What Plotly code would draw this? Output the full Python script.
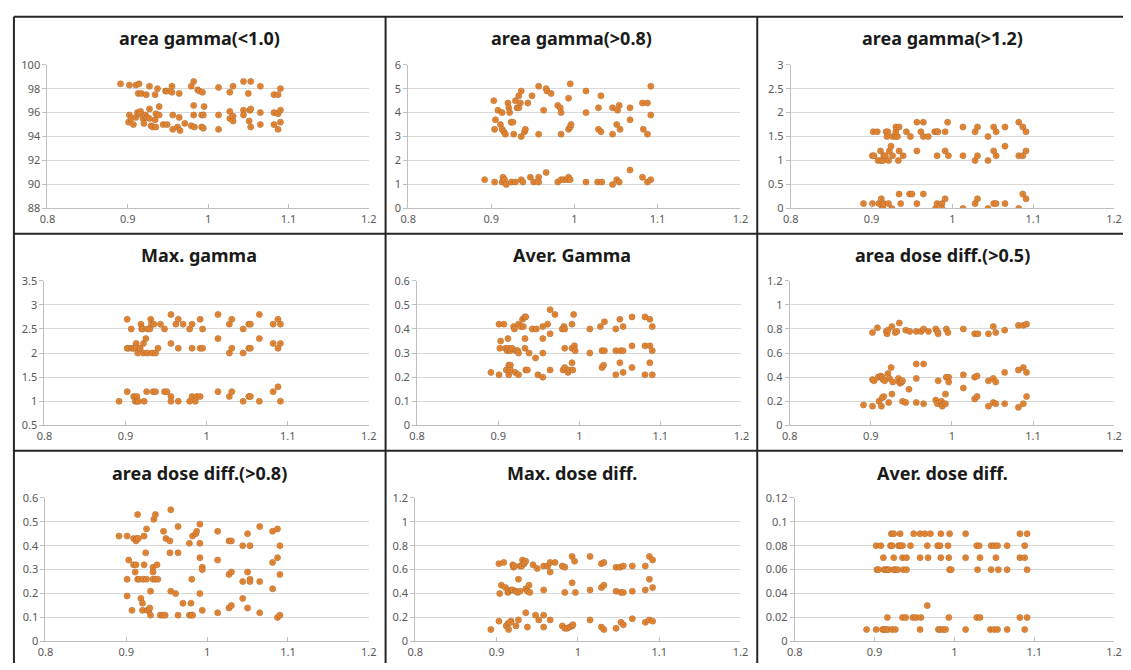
import plotly.graph_objects as go

# ---------------- data ----------------
titles = ["area gamma(<1.0)", "area gamma(>0.8)", "area gamma(>1.2)",
          "Max. gamma", "Aver. Gamma", "area dose diff.(>0.5)",
          "area dose diff.(>0.8)", "Max. dose diff.", "Aver. dose diff."]

x_ticks = [0.8, 0.9, 1.0, 1.1, 1.2]
x_tick_labels = ["0.8", "0.9", "1", "1.1", "1.2"]

p1_x = [0.891, 0.902, 0.910, 0.914, 0.913, 0.917, 0.923, 0.927, 0.934, 0.937, 0.947, 0.949, 0.955, 0.955, 0.964,
        0.979, 0.982, 0.987, 0.989, 0.993, 1.013, 1.027, 1.031, 1.044, 1.050, 1.053, 1.065, 1.082, 1.087, 1.090,
        0.902, 0.901, 0.904, 0.907, 0.910, 0.912, 0.914, 0.916, 0.919, 0.920, 0.922, 0.924, 0.927, 0.927, 0.929,
        0.931, 0.934, 0.935, 0.935, 0.939, 0.939, 0.944, 0.949, 0.956, 0.956, 0.962, 0.964, 0.965, 0.971, 0.979,
        0.982, 0.982, 0.983, 0.992, 0.994, 0.992, 0.994, 0.995, 1.013, 1.013, 1.027, 1.027, 1.031, 1.031, 1.044,
        1.044, 1.051, 1.052, 1.053, 1.053, 1.065, 1.065, 1.082, 1.082, 1.087, 1.087, 1.090, 1.090]
p1_y = [98.4, 98.3, 98.3, 98.4, 97.6, 97.6, 97.5, 98.2, 97.5, 98.0, 97.8, 97.8, 98.2, 97.7, 97.6,
        98.2, 98.6, 97.9, 97.8, 97.7, 98.1, 97.7, 98.2, 98.6, 97.6, 98.6, 98.2, 97.5, 97.5, 98.0,
        95.8, 95.2, 95.5, 95.0, 95.6, 96.0, 95.9, 96.1, 95.5, 95.1, 95.8, 95.6, 96.3, 95.5, 94.9,
        94.8, 95.4, 94.8, 95.9, 96.5, 95.8, 95.0, 95.0, 95.8, 94.6, 94.8, 95.6, 94.5, 95.1, 94.9,
        96.6, 95.8, 94.8, 95.8, 95.8, 94.8, 94.7, 96.5, 95.8, 94.6, 96.1, 95.5, 95.7, 95.3, 96.2,
        95.8, 95.3, 96.2, 96.3, 94.8, 96.0, 95.0, 96.0, 95.0, 95.9, 94.6, 96.2, 95.2]

p2_x = [0.903, 0.904, 0.905, 0.908, 0.911, 0.913, 0.913, 0.915, 0.917, 0.920,
        0.921, 0.922, 0.924, 0.926, 0.927, 0.929, 0.931, 0.933, 0.933, 0.935,
        0.936, 0.936, 0.940, 0.941, 0.944, 0.949, 0.957, 0.957, 0.963, 0.966,
        0.967, 0.972, 0.980, 0.983, 0.984, 0.984, 0.993, 0.993, 0.995, 0.996,
        0.995, 1.014, 1.014, 1.029, 1.029, 1.032, 1.032, 1.046, 1.046, 1.051,
        1.052, 1.054, 1.055, 1.067, 1.067, 1.082, 1.088, 1.083, 1.088, 1.092, 1.092,
        0.892, 0.904, 0.913, 0.914, 0.916, 0.918, 0.924, 0.929, 0.936, 0.938,
        0.947, 0.951, 0.957, 0.957, 0.966, 0.980, 0.984, 0.987, 0.991, 0.993,
        0.995, 1.014, 1.028, 1.033, 1.046, 1.051, 1.054, 1.067, 1.082, 1.088, 1.092]
p2_y = [4.5, 3.3, 3.7, 4.1, 3.5, 4.0, 3.3, 3.2, 3.1, 4.4,
        4.2, 4.0, 3.6, 3.6, 3.1, 4.5, 4.2, 4.2, 4.7, 4.4,
        4.9, 3.0, 3.2, 3.3, 4.4, 4.7, 5.1, 3.1, 4.1, 5.0,
        4.9, 4.8, 4.3, 4.2, 4.0, 3.1, 4.6, 3.3, 3.4, 3.5,
        5.2, 4.9, 4.0, 4.2, 3.3, 4.7, 3.2, 4.2, 3.1, 3.5,
        4.1, 4.3, 3.3, 4.2, 3.7, 4.4, 4.4, 3.3, 3.1, 5.1, 3.9,
        1.2, 1.1, 1.1, 1.3, 1.2, 1.0, 1.1, 1.1, 1.2, 1.1,
        1.3, 1.1, 1.3, 1.1, 1.5, 1.1, 1.2, 1.2, 1.2, 1.3,
        1.2, 1.1, 1.1, 1.1, 1.0, 1.2, 1.1, 1.6, 1.3, 1.1, 1.2]

p3_x = [0.902, 0.907, 0.918, 0.920, 0.919, 0.926, 0.930, 0.932, 0.930, 0.930, 0.934, 0.943, 0.948, 0.956, 0.964,
        0.961, 0.964, 0.970, 0.978, 0.981, 0.982, 0.991, 0.994, 1.013, 1.028, 1.031, 1.044, 1.051, 1.054, 1.065,
        1.082, 1.087, 1.091,
        0.901, 0.903, 0.908, 0.912, 0.914, 0.911, 0.915, 0.917, 0.921, 0.922, 0.924, 0.926, 0.933, 0.934, 0.939,
        0.956, 0.981, 0.991, 0.995, 1.013, 1.028, 1.031, 1.044, 1.051, 1.054, 1.065, 1.082, 1.087, 1.091,
        0.890, 0.901, 0.909, 0.912, 0.913, 0.914, 0.915, 0.921, 0.925, 0.934, 0.936, 0.947, 0.950, 0.956, 0.964,
        0.979, 0.981, 0.987, 0.987, 0.991, 1.013, 1.028, 1.031, 1.044, 1.051, 1.054, 1.065, 1.082, 1.087, 1.091]
p3_y = [1.6, 1.6, 1.6, 1.6, 1.5, 1.5, 1.5, 1.5, 1.6, 1.7, 1.7, 1.6, 1.5, 1.8, 1.8,
        1.6, 1.5, 1.5, 1.6, 1.6, 1.6, 1.6, 1.8, 1.7, 1.6, 1.7, 1.5, 1.7, 1.6, 1.7,
        1.8, 1.7, 1.6,
        1.1, 1.1, 1.0, 1.0, 1.0, 1.2, 1.1, 1.1, 1.0, 1.2, 1.3, 1.1, 1.0, 1.2, 1.1,
        1.2, 1.1, 1.2, 1.1, 1.1, 1.0, 1.1, 1.0, 1.2, 1.1, 1.3, 1.1, 1.1, 1.2,
        0.1, 0.1, 0.1, 0.2, 0.0, 0.0, 0.1, 0.1, 0.0, 0.3, 0.1, 0.3, 0.3, 0.1, 0.3,
        0.0, 0.1, 0.1, 0.0, 0.2, 0.0, 0.1, 0.2, 0.0, 0.1, 0.1, 0.1, 0.0, 0.3, 0.2]

p4_x = [0.902, 0.907, 0.919, 0.920, 0.921, 0.927, 0.930, 0.931, 0.932, 0.935, 0.943, 0.948, 0.956, 0.962, 0.965,
        0.971, 0.979, 0.982, 0.992, 0.995, 1.014, 1.028, 1.031, 1.045, 1.052, 1.054, 1.065, 1.082, 1.088, 1.091,
        0.902, 0.904, 0.908, 0.910, 0.913, 0.913, 0.915, 0.918, 0.922, 0.922, 0.925, 0.927, 0.933, 0.937, 0.940,
        0.956, 0.965, 0.982, 0.992, 0.995, 1.014, 1.028, 1.031, 1.045, 1.052, 1.054, 1.065, 1.082, 1.088, 1.091,
        0.892, 0.902, 0.910, 0.914, 0.912, 0.914, 0.916, 0.923, 0.926, 0.934, 0.937, 0.948, 0.951, 0.956, 0.956,
        0.965, 0.979, 0.982, 0.986, 0.988, 0.992, 1.014, 1.028, 1.031, 1.045, 1.052, 1.054, 1.065, 1.082, 1.088, 1.091]
p4_y = [2.7, 2.5, 2.6, 2.5, 2.5, 2.5, 2.5, 2.7, 2.6, 2.6, 2.6, 2.5, 2.8, 2.6, 2.7,
        2.6, 2.5, 2.6, 2.7, 2.5, 2.8, 2.6, 2.7, 2.5, 2.6, 2.6, 2.8, 2.6, 2.7, 2.6,
        2.1, 2.1, 2.1, 2.1, 2.2, 2.1, 2.0, 2.1, 2.2, 2.0, 2.3, 2.0, 2.0, 2.0, 2.1,
        2.2, 2.1, 2.1, 2.1, 2.1, 2.3, 2.0, 2.1, 2.0, 2.1, 2.1, 2.3, 2.2, 2.1, 2.2,
        1.0, 1.2, 1.1, 1.1, 1.0, 1.0, 1.0, 1.0, 1.2, 1.2, 1.2, 1.2, 1.2, 1.1, 1.0,
        1.0, 1.0, 1.1, 1.0, 1.1, 1.1, 1.2, 1.1, 1.2, 1.0, 1.1, 1.1, 1.0, 1.2, 1.3, 1.0]

p5_x = [0.891, 0.901, 0.907, 0.902, 0.901, 0.903, 0.909, 0.911, 0.913, 0.915,
        0.917, 0.910, 0.912, 0.913, 0.915, 0.913, 0.915, 0.919, 0.920, 0.921,
        0.922, 0.924, 0.925, 0.925, 0.925, 0.928, 0.930, 0.933, 0.934, 0.931,
        0.933, 0.933, 0.934, 0.936, 0.938, 0.942, 0.947, 0.946, 0.949, 0.955,
        0.955, 0.955, 0.955, 0.961, 0.964, 0.964, 0.964, 0.970, 0.979, 0.981,
        0.982, 0.980, 0.982, 0.982, 0.986, 0.988, 0.991, 0.991, 0.991, 0.992,
        0.993, 0.994, 0.995, 1.013, 1.013, 1.026, 1.028, 1.030, 1.028, 1.031,
        1.031, 1.045, 1.045, 1.045, 1.050, 1.050, 1.051, 1.054, 1.054, 1.054,
        1.065, 1.065, 1.065, 1.081, 1.081, 1.081, 1.087, 1.087, 1.087, 1.090,
        1.090, 1.090]
p5_y = [0.22, 0.42, 0.42, 0.32, 0.21, 0.35, 0.32, 0.31, 0.32, 0.31,
        0.32, 0.23, 0.36, 0.25, 0.25, 0.21, 0.23, 0.41, 0.40, 0.22,
        0.31, 0.31, 0.30, 0.21, 0.42, 0.41, 0.44, 0.45, 0.45, 0.41,
        0.36, 0.32, 0.23, 0.23, 0.30, 0.40, 0.40, 0.28, 0.21, 0.41,
        0.36, 0.30, 0.20, 0.42, 0.38, 0.48, 0.23, 0.46, 0.40, 0.41,
        0.40, 0.23, 0.24, 0.32, 0.22, 0.23, 0.42, 0.32, 0.26, 0.23,
        0.46, 0.33, 0.31, 0.40, 0.30, 0.41, 0.24, 0.25, 0.31, 0.31,
        0.43, 0.40, 0.31, 0.21, 0.44, 0.26, 0.31, 0.31, 0.41, 0.22,
        0.45, 0.33, 0.24, 0.45, 0.33, 0.21, 0.44, 0.33, 0.26, 0.41,
        0.31, 0.21]

p6_x = [0.902, 0.908, 0.919, 0.920, 0.921, 0.926, 0.930, 0.932, 0.935, 0.943, 0.948, 0.956, 0.962, 0.965, 0.971,
        0.980, 0.982, 0.983, 0.993, 0.995, 1.014, 1.028, 1.032, 1.045, 1.051, 1.054, 1.065, 1.082, 1.088, 1.092,
        0.902, 0.904, 0.909, 0.912, 0.914, 0.915, 0.917, 0.921, 0.923, 0.925, 0.927, 0.934, 0.935, 0.936, 0.938,
        0.939, 0.947, 0.956, 0.965, 0.956, 0.983, 0.993, 0.996, 0.996, 1.014, 1.014, 1.028, 1.031, 1.045, 1.051,
        1.054, 1.065, 1.082, 1.088, 1.092,
        0.891, 0.902, 0.910, 0.913, 0.914, 0.916, 0.922, 0.926, 0.939, 0.943, 0.956, 0.965, 0.980, 0.982, 0.987,
        0.988, 0.992, 0.992, 1.028, 1.031, 1.045, 1.051, 1.054, 1.065, 1.082, 1.088, 1.092]
p6_y = [0.77, 0.81, 0.78, 0.76, 0.79, 0.82, 0.77, 0.78, 0.85, 0.79, 0.78, 0.78, 0.78, 0.80, 0.78,
        0.80, 0.78, 0.76, 0.80, 0.77, 0.80, 0.76, 0.76, 0.76, 0.82, 0.77, 0.79, 0.83, 0.83, 0.84,
        0.38, 0.37, 0.40, 0.41, 0.40, 0.38, 0.37, 0.43, 0.39, 0.48, 0.36, 0.39, 0.36, 0.35, 0.36,
        0.37, 0.30, 0.51, 0.51, 0.39, 0.37, 0.40, 0.40, 0.36, 0.42, 0.31, 0.40, 0.41, 0.37, 0.39,
        0.36, 0.44, 0.46, 0.48, 0.44,
        0.17, 0.16, 0.20, 0.16, 0.23, 0.24, 0.19, 0.26, 0.20, 0.19, 0.19, 0.18, 0.21, 0.18, 0.20,
        0.16, 0.18, 0.26, 0.22, 0.24, 0.16, 0.19, 0.18, 0.18, 0.15, 0.18, 0.24]

p7_x = [0.891, 0.901, 0.901, 0.901, 0.903, 0.907, 0.909, 0.912, 0.913, 0.915,
        0.911, 0.909, 0.912, 0.914, 0.914, 0.916, 0.918, 0.920, 0.920, 0.921,
        0.925, 0.922, 0.922, 0.924, 0.925, 0.926, 0.928, 0.929, 0.930, 0.930,
        0.933, 0.933, 0.933, 0.934, 0.936, 0.938, 0.936, 0.939, 0.942, 0.945,
        0.948, 0.946, 0.949, 0.954, 0.955, 0.954, 0.955, 0.961, 0.964, 0.964,
        0.964, 0.970, 0.978, 0.978, 0.981, 0.982, 0.981, 0.980, 0.982, 0.986,
        0.987, 0.991, 0.991, 0.991, 0.991, 0.994, 0.994, 0.994, 1.013, 1.013,
        1.013, 1.027, 1.030, 1.027, 1.030, 1.027, 1.030, 1.044, 1.044, 1.044,
        1.050, 1.050, 1.050, 1.053, 1.053, 1.053, 1.065, 1.065, 1.065, 1.081,
        1.081, 1.081, 1.087, 1.087, 1.087, 1.090, 1.090, 1.090]
p7_y = [0.44, 0.44, 0.19, 0.26, 0.34, 0.13, 0.43, 0.42, 0.43, 0.43,
        0.29, 0.32, 0.32, 0.53, 0.26, 0.26, 0.18, 0.16, 0.13, 0.26,
        0.26, 0.32, 0.44, 0.37, 0.47, 0.13, 0.13, 0.14, 0.11, 0.21,
        0.31, 0.29, 0.26, 0.51, 0.53, 0.32, 0.26, 0.26, 0.11, 0.11,
        0.11, 0.46, 0.43, 0.42, 0.55, 0.37, 0.21, 0.20, 0.48, 0.37,
        0.11, 0.16, 0.41, 0.11, 0.11, 0.11, 0.26, 0.16, 0.44, 0.45,
        0.46, 0.49, 0.41, 0.35, 0.20, 0.31, 0.30, 0.13, 0.46, 0.34,
        0.12, 0.42, 0.42, 0.28, 0.29, 0.14, 0.15, 0.40, 0.25, 0.18,
        0.45, 0.29, 0.14, 0.40, 0.26, 0.25, 0.48, 0.25, 0.12, 0.46,
        0.33, 0.22, 0.47, 0.35, 0.10, 0.11, 0.40, 0.28]

p8_x = [0.903, 0.909, 0.920, 0.921, 0.922, 0.929, 0.931, 0.932, 0.934, 0.936, 0.945, 0.950, 0.958, 0.963, 0.966,
        0.972, 0.966, 0.981, 0.984, 0.993, 0.996, 1.015, 1.029, 1.032, 1.047, 1.052, 1.056, 1.067, 1.083, 1.088, 1.092,
        0.904, 0.906, 0.911, 0.914, 0.915, 0.918, 0.920, 0.924, 0.926, 0.929, 0.927, 0.936, 0.938, 0.940, 0.941,
        0.958, 0.984, 0.993, 0.997, 1.015, 1.029, 1.032, 1.047, 1.053, 1.056, 1.067, 1.083, 1.088, 1.092,
        0.893, 0.903, 0.912, 0.914, 0.915, 0.918, 0.917, 0.924, 0.927, 0.936, 0.938, 0.948, 0.952, 0.958, 0.958,
        0.966, 0.981, 0.984, 0.987, 0.990, 0.993, 0.994, 1.015, 1.029, 1.032, 1.047, 1.053, 1.056, 1.067, 1.083,
        1.088, 1.092]
p8_y = [0.65, 0.66, 0.64, 0.62, 0.63, 0.63, 0.63, 0.68, 0.65, 0.67, 0.64, 0.61, 0.63, 0.63, 0.66,
        0.66, 0.58, 0.63, 0.62, 0.71, 0.67, 0.71, 0.65, 0.66, 0.62, 0.62, 0.63, 0.63, 0.63, 0.71, 0.68,
        0.40, 0.47, 0.45, 0.41, 0.42, 0.43, 0.43, 0.42, 0.41, 0.42, 0.52, 0.44, 0.42, 0.47, 0.41,
        0.43, 0.41, 0.49, 0.41, 0.43, 0.45, 0.47, 0.42, 0.41, 0.41, 0.42, 0.43, 0.52, 0.45,
        0.10, 0.17, 0.13, 0.15, 0.10, 0.17, 0.16, 0.13, 0.18, 0.24, 0.12, 0.22, 0.18, 0.22, 0.12,
        0.18, 0.13, 0.11, 0.11, 0.12, 0.13, 0.14, 0.18, 0.12, 0.10, 0.11, 0.16, 0.14, 0.19, 0.16,
        0.18, 0.17]

p9_x = [0.921, 0.924, 0.932, 0.949, 0.957, 0.963, 0.970, 0.983, 0.994, 1.014, 1.082, 1.091,
        0.902, 0.908, 0.920, 0.922, 0.930, 0.932, 0.935, 0.945, 0.966, 0.979, 0.982, 0.992, 1.028, 1.031,
        1.046, 1.050, 1.054, 1.066, 1.088,
        0.911, 0.924, 0.935, 0.940, 0.957, 0.967, 0.983, 0.993, 1.014, 1.032, 1.052, 1.082, 1.088,
        0.903, 0.905, 0.912, 0.914, 0.916, 0.918, 0.924, 0.926, 0.929, 0.936, 0.940, 0.994, 0.996, 1.029,
        1.046, 1.055, 1.066, 1.091,
        0.966,
        0.916, 0.935, 0.939, 0.948, 0.952, 0.958, 0.993, 1.028, 1.032, 1.082, 1.091,
        0.890, 0.902, 0.910, 0.912, 0.914, 0.917, 0.922, 0.926, 0.957, 0.980, 0.982, 0.986, 0.989, 1.014,
        1.045, 1.050, 1.054, 1.066, 1.088]
p9_y = [0.09, 0.09, 0.09, 0.09, 0.09, 0.09, 0.09, 0.09, 0.09, 0.09, 0.09, 0.09,
        0.08, 0.08, 0.08, 0.08, 0.08, 0.08, 0.08, 0.08, 0.08, 0.08, 0.08, 0.08, 0.08, 0.08,
        0.08, 0.08, 0.08, 0.08, 0.08,
        0.07, 0.07, 0.07, 0.07, 0.07, 0.07, 0.07, 0.07, 0.07, 0.07, 0.07, 0.07, 0.07,
        0.06, 0.06, 0.06, 0.06, 0.06, 0.06, 0.06, 0.06, 0.06, 0.06, 0.06, 0.06, 0.06, 0.06,
        0.06, 0.06, 0.06, 0.06,
        0.03,
        0.02, 0.02, 0.02, 0.02, 0.02, 0.02, 0.02, 0.02, 0.02, 0.02, 0.02,
        0.01, 0.01, 0.01, 0.01, 0.01, 0.01, 0.01, 0.01, 0.01, 0.01, 0.01, 0.01, 0.01, 0.01,
        0.01, 0.01, 0.01, 0.01, 0.01]

y_ranges = [(88, 100, 2), (0, 6, 1), (0, 3, 0.5),
            (0.5, 3.5, 0.5), (0, 0.6, 0.1), (0, 1.2, 0.2),
            (0, 0.6, 0.1), (0, 1.2, 0.2), (0, 0.12, 0.02)]

series = [(p1_x, p1_y), (p2_x, p2_y), (p3_x, p3_y),
          (p4_x, p4_y), (p5_x, p5_y), (p6_x, p6_y),
          (p7_x, p7_y), (p8_x, p8_y), (p9_x, p9_y)]

# ---------------- layout geometry (pixels of the 1131x670 page) ----------------
W, H = 1131, 670
# (left, right, top, bottom) of each plot area
boxes = [(40, 366, 58, 205), (406, 743, 58, 205), (794, 1122, 58, 205),
         (37, 366, 279, 427), (415, 744, 279, 427), (793, 1122, 279, 427),
         (38, 366, 501, 648), (413, 743, 501, 648), (798, 1122, 501, 648)]
title_y = [31, 253, 476]
title_x = [194, 572, 948]

fig = go.Figure()
layout = dict(width=W, height=H, margin=dict(l=0, r=0, t=0, b=0), autosize=False,
              paper_bgcolor="white", plot_bgcolor="white", showlegend=False,
              font=dict(family="Noto Sans, Open Sans, sans-serif", size=11, color="#595959"))

annotations = []
for i, ((xs, ys), (l, r, t, b), (y0, y1, dy)) in enumerate(zip(series, boxes, y_ranges)):
    n = "" if i == 0 else str(i + 1)
    fig.add_trace(go.Scatter(
        x=xs, y=ys, mode="markers", xaxis="x" + n, yaxis="y" + n,
        marker=dict(size=6, color="#f39b48",
                    line=dict(color="#a85b1c", width=0.6),
                    gradient=dict(type="radial", color="#d0701f")),
        hoverinfo="x+y"))
    layout["xaxis" + n] = dict(
        domain=[l / W, r / W], anchor="y" + n, range=[0.8, 1.2],
        tickvals=x_ticks, ticktext=x_tick_labels,
        showgrid=False, zeroline=False, showline=True, linecolor="#bfbfbf", linewidth=1,
        ticks="inside", ticklen=4, tickcolor="#bfbfbf",
        tickfont=dict(size=11, color="#595959"))
    layout["yaxis" + n] = dict(
        domain=[1 - b / H, 1 - t / H], anchor="x" + n, range=[y0, y1], dtick=dy, tick0=y0,
        showgrid=True, gridcolor="#d9d9d9", gridwidth=1, zeroline=False,
        showline=True, linecolor="#bfbfbf", linewidth=1,
        ticks="outside", ticklen=4, tickcolor="#bfbfbf",
        tickfont=dict(size=11, color="#595959"))
    annotations.append(dict(
        text="<b>" + titles[i] + "</b>", xref="paper", yref="paper",
        x=title_x[i % 3] / W, y=1 - title_y[i // 3] / H, xanchor="center", yanchor="middle",
        showarrow=False, font=dict(size=18, color="#1a1a1a", family="Noto Sans, sans-serif")))

layout["annotations"] = annotations

# panel borders
bc = "#262626"
def hline(py, x0=6, x1=W):
    return dict(type="line", xref="paper", yref="paper", x0=x0 / W, x1=x1 / W,
                y0=1 - py / H, y1=1 - py / H, line=dict(color=bc, width=2))
def vline(px, y0=9, y1=H):
    return dict(type="line", xref="paper", yref="paper", x0=px / W, x1=px / W,
                y0=1 - y0 / H, y1=1 - y1 / H, line=dict(color=bc, width=2))
layout["shapes"] = [hline(9), hline(231), hline(453), vline(6), vline(383), vline(760)]

fig.update_layout(**layout)
# remove the default page margin so the 1131x670 figure fills the window exactly
fig.write_html("out.html", config={"displayModeBar": False},
               post_script="document.body.style.margin='0';document.body.style.overflow='hidden';"
                           "document.documentElement.style.overflow='hidden';")
